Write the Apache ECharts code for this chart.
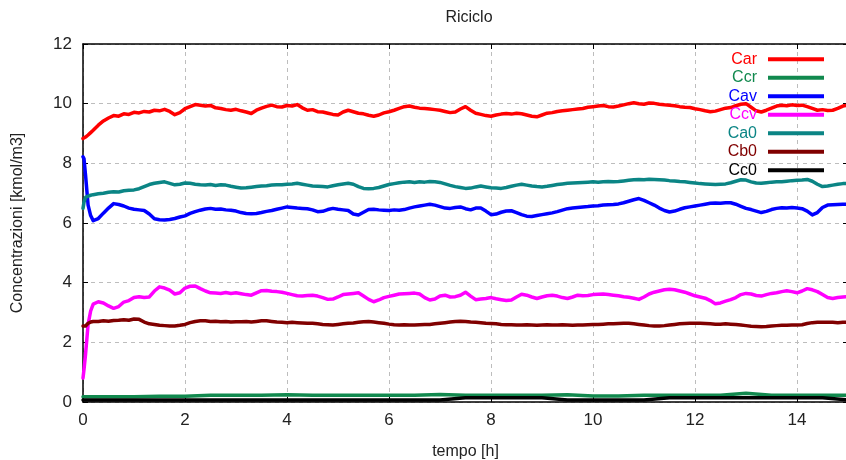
<!DOCTYPE html>
<html>
<head>
<meta charset="utf-8">
<script src="https://cdn.jsdelivr.net/npm/echarts@6/dist/echarts.min.js"></script>
<style>
  html, body { margin: 0; padding: 0; background: #ffffff; }
  #chart { width: 846px; height: 460px; }
</style>
</head>
<body>
<div id="chart"></div>
<script>
// Sampling times [h]: dense at the start-up transient, then every 0.1 h
const tempo = [0, 0.02, 0.05, 0.1, 0.15, 0.2];
for (let k = 3; k <= 150; k++) tempo.push(k / 10);

// Concentrations [kmol/m3], one value per entry of `tempo`
const car = [
  8.83, 8.85, 8.88, 8.95, 9.03, 9.11,
  9.28, 9.42, 9.52, 9.60, 9.58, 9.66, 9.64, 9.71, 9.69,
  9.74, 9.72, 9.78, 9.76, 9.81, 9.74, 9.63, 9.70, 9.83, 9.90,
  9.97, 9.95, 9.92, 9.94, 9.86, 9.84, 9.80, 9.78, 9.81, 9.76,
  9.72, 9.67, 9.78, 9.85, 9.91, 9.95, 9.90, 9.89, 9.94, 9.92,
  9.97, 9.86, 9.78, 9.80, 9.73, 9.72, 9.68, 9.64, 9.62, 9.72,
  9.78, 9.73, 9.68, 9.66, 9.61, 9.58, 9.62, 9.69, 9.73, 9.78,
  9.84, 9.90, 9.92, 9.88, 9.85, 9.84, 9.82, 9.80, 9.78, 9.74,
  9.70, 9.72, 9.82, 9.90, 9.78, 9.68, 9.64, 9.60, 9.58, 9.62,
  9.65, 9.67, 9.65, 9.68, 9.66, 9.62, 9.58, 9.56, 9.62, 9.68,
  9.70, 9.74, 9.76, 9.78, 9.80, 9.82, 9.84, 9.88, 9.90, 9.92,
  9.94, 9.90, 9.89, 9.92, 9.96, 10.00, 10.03, 10.00, 9.98, 10.02,
  10.01, 9.98, 9.96, 9.95, 9.93, 9.90, 9.88, 9.87, 9.83, 9.80,
  9.76, 9.73, 9.75, 9.80, 9.85, 9.87, 9.93, 9.98, 10.00, 9.88,
  9.76, 9.72, 9.78, 9.85, 9.92, 9.95, 9.93, 9.96, 9.94, 9.95,
  9.90, 9.84, 9.78, 9.80, 9.77, 9.78, 9.84, 9.92, 9.95
];

const cav = [
  8.22, 8.15, 7.60, 6.60, 6.25, 6.08,
  6.15, 6.33, 6.50, 6.65, 6.62, 6.57, 6.50, 6.46, 6.44,
  6.42, 6.30, 6.14, 6.11, 6.10, 6.12, 6.15, 6.20, 6.24, 6.32,
  6.38, 6.43, 6.47, 6.49, 6.46, 6.47, 6.44, 6.43, 6.40, 6.35,
  6.32, 6.31, 6.32, 6.35, 6.39, 6.42, 6.46, 6.50, 6.54, 6.52,
  6.50, 6.49, 6.48, 6.44, 6.38, 6.39, 6.45, 6.49, 6.46, 6.44,
  6.42, 6.30, 6.27, 6.36, 6.45, 6.46, 6.44, 6.43, 6.42, 6.44,
  6.43, 6.45, 6.50, 6.54, 6.57, 6.60, 6.63, 6.60, 6.55, 6.50,
  6.49, 6.52, 6.54, 6.48, 6.44, 6.50, 6.50, 6.40, 6.28, 6.30,
  6.36, 6.40, 6.41, 6.35, 6.28, 6.23, 6.22, 6.25, 6.28, 6.31,
  6.34, 6.38, 6.43, 6.48, 6.50, 6.52, 6.54, 6.55, 6.57, 6.58,
  6.60, 6.61, 6.62, 6.64, 6.68, 6.73, 6.78, 6.82, 6.76, 6.68,
  6.60, 6.50, 6.42, 6.37, 6.40, 6.46, 6.51, 6.54, 6.57, 6.60,
  6.63, 6.66, 6.67, 6.66, 6.68, 6.68, 6.63, 6.56, 6.49, 6.45,
  6.40, 6.35, 6.39, 6.45, 6.49, 6.51, 6.50, 6.52, 6.50, 6.48,
  6.40, 6.27, 6.35, 6.52, 6.60, 6.61, 6.62, 6.63, 6.63
];

const ccv = [
  0.80, 1.10, 1.60, 2.60, 3.05, 3.28,
  3.36, 3.32, 3.22, 3.14, 3.20, 3.35, 3.40, 3.50, 3.53,
  3.50, 3.52, 3.72, 3.86, 3.82, 3.75, 3.62, 3.66, 3.82, 3.88,
  3.89, 3.80, 3.72, 3.66, 3.65, 3.64, 3.67, 3.64, 3.66, 3.63,
  3.60, 3.58, 3.66, 3.73, 3.74, 3.71, 3.70, 3.68, 3.64, 3.60,
  3.56, 3.55, 3.57, 3.58, 3.55, 3.50, 3.44, 3.45, 3.52, 3.60,
  3.62, 3.64, 3.66, 3.55, 3.44, 3.36, 3.42, 3.50, 3.54, 3.58,
  3.62, 3.63, 3.64, 3.65, 3.62, 3.50, 3.42, 3.45, 3.55, 3.58,
  3.52, 3.53, 3.58, 3.68, 3.55, 3.43, 3.45, 3.47, 3.50, 3.46,
  3.43, 3.40, 3.42, 3.52, 3.61, 3.58, 3.52, 3.47, 3.52, 3.56,
  3.58, 3.55, 3.50, 3.47, 3.52, 3.58, 3.56, 3.57, 3.60, 3.61,
  3.62, 3.60, 3.58, 3.56, 3.53, 3.51, 3.48, 3.44, 3.52, 3.62,
  3.68, 3.72, 3.76, 3.78, 3.76, 3.72, 3.68, 3.62, 3.56, 3.52,
  3.48, 3.40, 3.29, 3.32, 3.38, 3.43, 3.50, 3.60, 3.64, 3.62,
  3.57, 3.55, 3.60, 3.64, 3.66, 3.70, 3.73, 3.70, 3.66, 3.72,
  3.80, 3.76, 3.70, 3.60, 3.50, 3.47, 3.50, 3.52, 3.53
];

const ca0 = [
  6.49, 6.70, 6.86, 6.90, 6.93, 6.95,
  6.98, 7.00, 7.03, 7.05, 7.04, 7.08, 7.10, 7.11, 7.15,
  7.22, 7.29, 7.33, 7.36, 7.38, 7.33, 7.28, 7.30, 7.34, 7.33,
  7.30, 7.28, 7.27, 7.29, 7.26, 7.28, 7.27, 7.23, 7.20, 7.17,
  7.18, 7.20, 7.22, 7.24, 7.25, 7.27, 7.28, 7.28, 7.30, 7.31,
  7.33, 7.30, 7.27, 7.24, 7.23, 7.22, 7.21, 7.25, 7.28, 7.31,
  7.33, 7.30, 7.22, 7.16, 7.15, 7.16, 7.19, 7.24, 7.29, 7.32,
  7.35, 7.37, 7.38, 7.36, 7.38, 7.37, 7.39, 7.38, 7.36, 7.31,
  7.26, 7.22, 7.19, 7.16, 7.17, 7.21, 7.24, 7.21, 7.18, 7.17,
  7.16, 7.19, 7.23, 7.27, 7.30, 7.27, 7.24, 7.22, 7.21, 7.23,
  7.26, 7.29, 7.31, 7.33, 7.34, 7.35, 7.36, 7.37, 7.38, 7.37,
  7.38, 7.39, 7.38, 7.39, 7.41, 7.43, 7.45, 7.46, 7.45, 7.47,
  7.46, 7.45, 7.44, 7.42, 7.41, 7.39, 7.38, 7.36, 7.34, 7.32,
  7.31, 7.30, 7.29, 7.30, 7.31, 7.35, 7.40, 7.45, 7.44, 7.38,
  7.34, 7.33, 7.35, 7.37, 7.38, 7.38, 7.40, 7.42, 7.43, 7.44,
  7.46, 7.40, 7.30, 7.22, 7.24, 7.27, 7.30, 7.32, 7.33
];

const cb0 = [
  2.55, 2.50, 2.55, 2.64, 2.68, 2.70,
  2.70, 2.72, 2.71, 2.73, 2.74, 2.76, 2.74, 2.78, 2.77,
  2.68, 2.62, 2.60, 2.57, 2.56, 2.55, 2.55, 2.57, 2.60, 2.66,
  2.70, 2.72, 2.72, 2.70, 2.71, 2.69, 2.70, 2.68, 2.69, 2.69,
  2.70, 2.68, 2.70, 2.72, 2.72, 2.70, 2.68, 2.67, 2.66, 2.67,
  2.66, 2.65, 2.64, 2.64, 2.62, 2.60, 2.59, 2.58, 2.60, 2.62,
  2.64, 2.65, 2.67, 2.69, 2.70, 2.68, 2.66, 2.64, 2.61, 2.59,
  2.58, 2.59, 2.58, 2.58, 2.59, 2.60, 2.60, 2.62, 2.64, 2.66,
  2.68, 2.70, 2.71, 2.70, 2.68, 2.67, 2.66, 2.64, 2.63, 2.62,
  2.60, 2.59, 2.59, 2.58, 2.58, 2.59, 2.58, 2.57, 2.58, 2.59,
  2.58, 2.58, 2.59, 2.58, 2.57, 2.58, 2.58, 2.59, 2.60, 2.60,
  2.61, 2.62, 2.62, 2.63, 2.64, 2.64, 2.62, 2.60, 2.58, 2.56,
  2.55, 2.55, 2.56, 2.58, 2.60, 2.62, 2.63, 2.64, 2.64, 2.64,
  2.63, 2.62, 2.61, 2.61, 2.62, 2.61, 2.60, 2.58, 2.56, 2.54,
  2.53, 2.52, 2.53, 2.55, 2.56, 2.57, 2.57, 2.58, 2.58, 2.59,
  2.63, 2.66, 2.67, 2.67, 2.67, 2.67, 2.66, 2.67, 2.67
];

// The two near-zero series, sampled every half hour
const tempoBasso = [0, 0.5, 1, 1.5, 2, 2.5, 3, 3.5, 4, 4.5, 5, 5.5, 6, 6.5, 7, 7.5,
                    8, 8.5, 9, 9.5, 10, 10.5, 11, 11.5, 12, 12.5, 13, 13.5, 14, 14.5, 15];
const ccr = [0.18, 0.18, 0.18, 0.19, 0.19, 0.23, 0.23, 0.23, 0.24, 0.23, 0.23, 0.23, 0.23, 0.23, 0.25, 0.23,
             0.23, 0.23, 0.23, 0.24, 0.20, 0.20, 0.23, 0.23, 0.23, 0.23, 0.29, 0.23, 0.23, 0.23, 0.23];
const cc0 = [0.07, 0.07, 0.07, 0.07, 0.07, 0.07, 0.07, 0.07, 0.07, 0.07, 0.07, 0.07, 0.07, 0.07, 0.07, 0.14,
             0.14, 0.14, 0.14, 0.07, 0.07, 0.07, 0.07, 0.14, 0.14, 0.14, 0.14, 0.14, 0.14, 0.14, 0.07];

const xTicks = [0, 2, 4, 6, 8, 10, 12, 14];
const yTicks = [0, 2, 4, 6, 8, 10, 12];

const FONT = '"Liberation Sans", Arial, sans-serif';

const serie = [
  { name: 'Car', t: tempo,      v: car, color: '#ff0000' },
  { name: 'Ccr', t: tempoBasso, v: ccr, color: '#11894e' },
  { name: 'Cav', t: tempo,      v: cav, color: '#0000ff' },
  { name: 'Ccv', t: tempo,      v: ccv, color: '#ff00ff' },
  { name: 'Ca0', t: tempo,      v: ca0, color: '#0b8585' },
  { name: 'Cb0', t: tempo,      v: cb0, color: '#800000' },
  { name: 'Cc0', t: tempoBasso, v: cc0, color: '#000000' }
];

const chart = echarts.init(document.getElementById('chart'), null, { renderer: 'canvas' });

const gridLine = { show: true, lineStyle: { color: '#bdbdbd', type: [4, 4], width: 1 } };
const blackAxis = { show: true, onZero: false, lineStyle: { color: '#000', width: 1.5 } };
const innerTick = { show: true, inside: true, length: 5, lineStyle: { color: '#000', width: 1 } };

chart.setOption({
  animation: false,
  backgroundColor: '#ffffff',
  title: {
    text: 'Riciclo',
    left: 464, top: 5, textAlign: 'center',
    textStyle: { fontFamily: FONT, fontSize: 16, fontWeight: 'normal', color: '#222' }
  },
  grid: {
    left: 83, top: 44, width: 765, height: 358,
    containLabel: false, outerBoundsMode: 'none'
  },
  legend: {
    orient: 'vertical',
    align: 'right',
    right: 22, top: 50,
    padding: 0,
    itemGap: 0,
    itemWidth: 56, itemHeight: 4,
    icon: 'rect',
    selectedMode: false,
    textStyle: { fontFamily: FONT, fontSize: 16, lineHeight: 18.5, padding: [0, 6, 0, 0] },
    data: serie.map(s => ({ name: s.name, textStyle: { color: s.color } }))
  },
  xAxis: [
    {
      type: 'value', position: 'bottom', min: 0, max: 15, interval: 2,
      name: 'tempo [h]', nameLocation: 'middle', nameGap: 42,
      nameTextStyle: { fontFamily: FONT, fontSize: 16, color: '#222' },
      axisLine: blackAxis, axisTick: innerTick, splitLine: gridLine,
      axisLabel: {
        margin: 10, showMaxLabel: false, fontFamily: FONT, fontSize: 17, color: '#222',
        formatter: v => (xTicks.indexOf(v) >= 0 ? String(v) : '')
      }
    },
    {
      type: 'value', position: 'top', min: 0, max: 15, interval: 2,
      axisLine: blackAxis, axisTick: innerTick, splitLine: { show: false },
      axisLabel: { show: false }
    }
  ],
  yAxis: [
    {
      type: 'value', position: 'left', min: 0, max: 12, interval: 2,
      name: 'Concentrazioni [kmol/m3]', nameLocation: 'middle', nameGap: 57, nameRotate: 90,
      nameTextStyle: { fontFamily: FONT, fontSize: 16, color: '#222' },
      axisLine: blackAxis, axisTick: innerTick, splitLine: gridLine,
      axisLabel: {
        margin: 11, fontFamily: FONT, fontSize: 17, color: '#222',
        formatter: v => (yTicks.indexOf(v) >= 0 ? String(v) : '')
      }
    },
    {
      type: 'value', position: 'right', min: 0, max: 12, interval: 2,
      axisLine: blackAxis, axisTick: innerTick, splitLine: { show: false },
      axisLabel: { show: false }
    }
  ],
  series: serie.map(s => ({
    name: s.name,
    type: 'line',
    xAxisIndex: 0, yAxisIndex: 0,
    color: s.color,
    showSymbol: false, symbol: 'none',
    lineStyle: { width: 3.5, color: s.color, cap: 'round', join: 'round' },
    data: s.t.map((t, i) => [t, s.v[i]])
  }))
});
</script>
</body>
</html>
